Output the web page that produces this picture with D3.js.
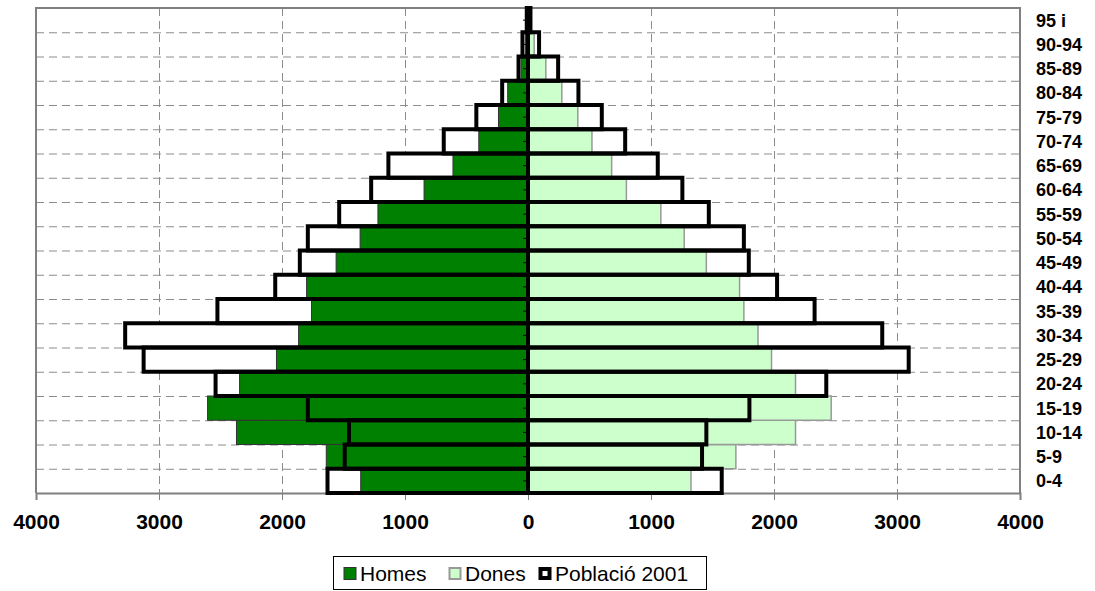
<!DOCTYPE html>
<html>
<head>
<meta charset="utf-8">
<script src="https://cdn.jsdelivr.net/npm/d3@7"></script>
<style>
	body { margin: 0; background: #fff; }
	svg { display: block; font-family: 'Liberation Sans', Arial, sans-serif; }
</style>
</head>
<body>
<div id="main-content"></div>
<script>
'use strict'

// age groups, bottom to top
const ages = ['0-4', '5-9', '10-14', '15-19', '20-24', '25-29', '30-34', '35-39', '40-44', '45-49',
	'50-54', '55-59', '60-64', '65-69', '70-74', '75-79', '80-84', '85-89', '90-94', '95 i']

const homes = [1360, 1640, 2370, 2605, 2345, 2045, 1865, 1760, 1800, 1560,
	1365, 1220, 845, 610, 400, 240, 165, 55, 20, 8]
const dones = [1325, 1690, 2175, 2465, 2175, 1980, 1870, 1755, 1720, 1450,
	1270, 1080, 800, 680, 520, 405, 275, 145, 50, 15]

// població 2001 (outline bars)
const homes2001 = [1630, 1490, 1455, 1790, 2540, 3125, 3275, 2525, 2055, 1855,
	1790, 1535, 1275, 1135, 685, 420, 210, 77, 45, 10]
const dones2001 = [1575, 1415, 1450, 1800, 2425, 3095, 2880, 2330, 2025, 1795,
	1755, 1470, 1255, 1055, 790, 600, 410, 245, 90, 20]

const xTicks = [-4000, -3000, -2000, -1000, 0, 1000, 2000, 3000, 4000]

const width = 1095,
		height = 591
const plot = { left: 36, right: 1020, top: 8, bottom: 493 }

const svg = d3.select('#main-content').append('svg')
	.attr('width', width)
	.attr('height', height)

const x = d3.scaleLinear()
	.domain([-4000, 4000])
	.range([plot.left, plot.right])

const y = d3.scaleBand()
	.domain(ages.slice().reverse())
	.range([plot.top, plot.bottom])
	.padding(0)

const rows = ages.map((age, i) => ({
	age: age,
	homes: homes[i],
	dones: dones[i],
	homes2001: homes2001[i],
	dones2001: dones2001[i]
}))

// gridlines
const grid = svg.append('g').attr('class', 'grid')
	.attr('stroke', '#8c8c8c')
	.attr('stroke-width', 1)
	.attr('stroke-dasharray', '8,5')

grid.selectAll('.vgrid')
	.data(xTicks.filter(d => d !== 0 && Math.abs(d) !== 4000))
	.enter().append('line')
	.attr('x1', d => x(d) + 0.5)
	.attr('x2', d => x(d) + 0.5)
	.attr('y1', plot.top)
	.attr('y2', plot.bottom)

grid.selectAll('.hgrid')
	.data(ages.slice(1))
	.enter().append('line')
	.attr('x1', plot.left)
	.attr('x2', plot.right)
	.attr('y1', d => y(d) + y.bandwidth() + 0.5)
	.attr('y2', d => y(d) + y.bandwidth() + 0.5)

// plot frame (left, top, right) and x axis
svg.append('path')
	.attr('d', `M${plot.left},${plot.bottom}V${plot.top}H${plot.right}V${plot.bottom}`)
	.attr('fill', 'none')
	.attr('stroke', '#808080')
	.attr('stroke-width', 2)

const xAxis = svg.append('g')
	.attr('transform', `translate(0,${plot.bottom})`)
	.call(d3.axisBottom(x).tickValues(xTicks).tickSize(7).tickFormat(d => Math.abs(d)))

xAxis.select('.domain').attr('stroke', '#808080').attr('stroke-width', 2)
xAxis.selectAll('.tick line').attr('stroke', '#808080')
xAxis.selectAll('.tick text')
	.attr('y', 21)
	.attr('dy', '0.71em')
	.attr('fill', '#000')
	.style('font-size', '21px')
	.style('font-weight', 'bold')
	.style('font-family', "'Liberation Sans', Arial, sans-serif")

// 2001 outlines: white fill behind, stroke on top
const outline = (d, side) => {
	const v = side === 'h' ? -d.homes2001 : d.dones2001
	return { x: Math.min(x(0), x(v)), w: Math.abs(x(v) - x(0)), y: y(d.age), h: y.bandwidth() }
}

const outlineFill = svg.append('g')
outlineFill.selectAll('.of-h')
	.data(rows).enter().append('rect')
	.attr('x', d => outline(d, 'h').x)
	.attr('y', d => outline(d, 'h').y)
	.attr('width', d => outline(d, 'h').w)
	.attr('height', d => outline(d, 'h').h)
	.attr('fill', '#fff')
outlineFill.selectAll('.of-d')
	.data(rows).enter().append('rect')
	.attr('x', d => outline(d, 'd').x)
	.attr('y', d => outline(d, 'd').y)
	.attr('width', d => outline(d, 'd').w)
	.attr('height', d => outline(d, 'd').h)
	.attr('fill', '#fff')

// homes / dones bars
svg.append('g').selectAll('rect')
	.data(rows).enter().append('rect')
	.attr('x', d => x(-d.homes))
	.attr('y', d => y(d.age))
	.attr('width', d => x(0) - x(-d.homes))
	.attr('height', y.bandwidth())
	.attr('fill', '#008000')
	.attr('stroke', '#333')
	.attr('stroke-width', 1)

svg.append('g').selectAll('rect')
	.data(rows).enter().append('rect')
	.attr('x', x(0))
	.attr('y', d => y(d.age))
	.attr('width', d => x(d.dones) - x(0))
	.attr('height', y.bandwidth())
	.attr('fill', '#ccffcc')
	.attr('stroke', '#999')
	.attr('stroke-width', 1.5)

const outlineStroke = svg.append('g')
	.attr('fill', 'none')
	.attr('stroke', '#000')
	.attr('stroke-width', 4)
outlineStroke.selectAll('.os-h')
	.data(rows).enter().append('rect')
	.attr('x', d => outline(d, 'h').x)
	.attr('y', d => outline(d, 'h').y)
	.attr('width', d => outline(d, 'h').w)
	.attr('height', d => outline(d, 'h').h)
outlineStroke.selectAll('.os-d')
	.data(rows).enter().append('rect')
	.attr('x', d => outline(d, 'd').x)
	.attr('y', d => outline(d, 'd').y)
	.attr('width', d => outline(d, 'd').w)
	.attr('height', d => outline(d, 'd').h)

// small category ticks on the centre line
svg.append('g').selectAll('line')
	.data(ages).enter().append('line')
	.attr('x1', x(0) - 5)
	.attr('x2', x(0))
	.attr('y1', d => y(d) + y.bandwidth() / 2)
	.attr('y2', d => y(d) + y.bandwidth() / 2)
	.attr('stroke', '#000')
	.attr('stroke-width', 1)

// age labels on the right
svg.append('g').selectAll('text')
	.data(ages).enter().append('text')
	.attr('x', 1036)
	.attr('y', d => y(d) + y.bandwidth() / 2)
	.attr('dy', '0.36em')
	.style('font-size', '18px')
	.style('font-weight', 'bold')
	.text(d => d)

// legend
const legend = svg.append('g').attr('transform', 'translate(333,556)')
legend.append('rect')
	.attr('x', 0.5).attr('y', 0.5)
	.attr('width', 373).attr('height', 33)
	.attr('fill', '#fff')
	.attr('stroke', '#000')
	.attr('stroke-width', 1)

const legendItems = [
	{ label: 'Homes', x: 10, fill: '#008000', stroke: '#333', sw: 1 },
	{ label: 'Dones', x: 115, fill: '#ccffcc', stroke: '#999', sw: 2 },
	{ label: 'Població 2001', x: 205, fill: '#fff', stroke: '#000', sw: 4 }
]

const li = legend.selectAll('.item')
	.data(legendItems).enter().append('g')
	.attr('transform', d => `translate(${d.x},0)`)
li.append('rect')
	.attr('x', d => d.sw / 2 + 0.5)
	.attr('y', d => 11 + d.sw / 2)
	.attr('width', d => 13 - d.sw)
	.attr('height', d => 13 - d.sw)
	.attr('fill', d => d.fill)
	.attr('stroke', d => d.stroke)
	.attr('stroke-width', d => d.sw)
li.append('text')
	.attr('x', 17)
	.attr('y', 17)
	.attr('dy', '0.36em')
	.style('font-size', '21px')
	.text(d => d.label)
</script>
</body>
</html>
